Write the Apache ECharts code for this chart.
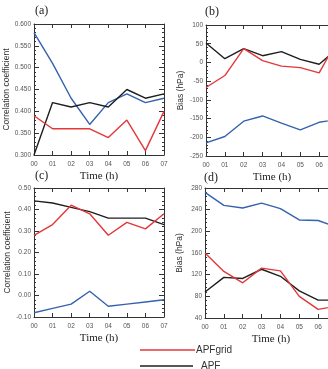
<!DOCTYPE html>
<html>
<head>
<meta charset="utf-8">
<script src="https://cdn.jsdelivr.net/npm/echarts@6/dist/echarts.min.js"></script>
<style>
  html, body { margin: 0; padding: 0; background: #fff; }
  #chart { width: 328px; height: 369px; }
</style>
</head>
<body>
<div id="chart"></div>
<script>
// hours on the x axis
const hours = ['00', '01', '02', '03', '04', '05', '06', '07'];

// (a) correlation coefficient
const corrA_grid = [0.39, 0.36, 0.36, 0.36, 0.34, 0.38, 0.31, 0.40];
const corrA_apf = [0.30, 0.42, 0.41, 0.42, 0.41, 0.45, 0.43, 0.44];
const corrA_blue = [0.58, 0.51, 0.43, 0.37, 0.42, 0.44, 0.42, 0.43];

// (b) bias
const biasB_grid = [-67, -35, 37, 5, -10, -14, -28, 62];
const biasB_apf = [52, 10, 37, 18, 29, 8, -5, 38];
const biasB_blue = [-215, -198, -157, -143, -162, -180, -160, -152];

// (c) correlation coefficient
const corrC_grid = [0.28, 0.33, 0.42, 0.38, 0.28, 0.34, 0.31, 0.38];
const corrC_apf = [0.44, 0.43, 0.41, 0.39, 0.36, 0.36, 0.36, 0.33];
const corrC_blue = [-0.08, -0.06, -0.04, 0.02, -0.05, -0.04, -0.03, -0.02];

// (d) bias
const biasD_grid = [160, 126, 105, 132, 127, 80, 56, 62];
const biasD_apf = [88, 115, 113, 130, 117, 90, 73, 73];
const biasD_blue = [272, 248, 243, 252, 242, 221, 220, 208];

const RED = '#e3373a';
const BLACK = '#1e1e1e';
const BLUE = '#3562ad';
const AXIS = '#333';

// right-hand panels run past the edge of the picture, as in the original crop
const grids = [
  { left: 34, top: 24, width: 130, height: 131, outerBoundsMode: 'none' },
  { left: 206, top: 25, width: 132, height: 131, outerBoundsMode: 'none' },
  { left: 34, top: 188, width: 130, height: 129, outerBoundsMode: 'none' },
  { left: 205, top: 188, width: 132, height: 130, outerBoundsMode: 'none' }
];

const yConf = [
  { min: 0.3, max: 0.6, interval: 0.05, fmt: v => v.toFixed(3), name: 'Correlation coefficient', gap: 20 },
  { min: -250, max: 100, interval: 50, fmt: v => String(v), name: 'Bias (hPa)', gap: 21 },
  { min: -0.1, max: 0.5, interval: 0.1, fmt: v => v.toFixed(2), name: 'Correlation coefficient', gap: 20 },
  { min: 40, max: 280, interval: 40, fmt: v => String(v), name: 'Bias (hPa)', gap: 21 }
];

const seriesData = [
  [corrA_grid, corrA_apf, corrA_blue],
  [biasB_grid, biasB_apf, biasB_blue],
  [corrC_grid, corrC_apf, corrC_blue],
  [biasD_grid, biasD_apf, biasD_blue]
];

const xAxes = [];
const yAxes = [];
const series = [];

grids.forEach((g, i) => {
  // bottom axis with labels
  xAxes.push({
    type: 'category', gridIndex: i, data: hours, boundaryGap: false, position: 'bottom',
    axisLine: { onZero: false, lineStyle: { color: AXIS, width: 1 } },
    axisTick: { inside: true, length: 4, lineStyle: { color: AXIS } },
    axisLabel: { color: '#555', fontSize: 6.5, fontFamily: 'Liberation Sans', margin: 6 },
    name: 'Time (h)', nameLocation: 'middle', nameGap: 16,
    nameTextStyle: { fontFamily: 'Liberation Serif', fontSize: 11, color: '#222' },
    splitLine: { show: false }
  });
  // top axis, ticks only
  xAxes.push({
    type: 'category', gridIndex: i, data: hours, boundaryGap: false, position: 'top',
    axisLine: { onZero: false, lineStyle: { color: AXIS, width: 1 } },
    axisTick: { inside: true, length: 4, lineStyle: { color: AXIS } },
    axisLabel: { show: false }, splitLine: { show: false }
  });
  const c = yConf[i];
  yAxes.push({
    type: 'value', gridIndex: i, min: c.min, max: c.max, interval: c.interval, position: 'left',
    axisLine: { show: true, onZero: false, lineStyle: { color: AXIS, width: 1 } },
    axisTick: { show: true, inside: true, length: 5, lineStyle: { color: AXIS } },
    minorTick: { show: true, splitNumber: 5, length: 2, lineStyle: { color: AXIS } },
    axisLabel: { color: '#555', fontSize: 6.5, fontFamily: 'Liberation Sans', margin: 3, formatter: c.fmt },
    name: c.name, nameLocation: 'middle', nameGap: c.gap,
    nameTextStyle: { fontFamily: 'Liberation Sans', fontSize: 8.5, color: '#333' },
    splitLine: { show: false }
  });
  yAxes.push({
    type: 'value', gridIndex: i, min: c.min, max: c.max, interval: c.interval, position: 'right',
    axisLine: { show: true, onZero: false, lineStyle: { color: AXIS, width: 1 } },
    axisTick: { show: true, inside: true, length: 5, lineStyle: { color: AXIS } },
    minorTick: { show: true, splitNumber: 5, length: 2, lineStyle: { color: AXIS } },
    axisLabel: { show: false }, splitLine: { show: false }
  });
  const [red, black, blue] = seriesData[i];
  const mk = (name, data, color) => ({
    name, type: 'line', xAxisIndex: i * 2, yAxisIndex: i * 2, data,
    symbol: 'none', lineStyle: { color, width: 1.4 }, itemStyle: { color },
    animation: false
  });
  series.push(mk('Other', blue, BLUE));
  series.push(mk('APF', black, BLACK));
  series.push(mk('APFgrid', red, RED));
});

const panelLabels = [
  { text: '(a)', left: 35, top: 5 },
  { text: '(b)', left: 205, top: 6 },
  { text: '(c)', left: 35, top: 170 },
  { text: '(d)', left: 204, top: 172 }
];

const legendBase = {
  orient: 'horizontal', itemWidth: 55, itemHeight: 1.5, icon: 'rect',
  padding: 0, selectedMode: false
};

const chart = echarts.init(document.getElementById('chart'));
chart.setOption({
  animation: false,
  title: panelLabels.map(p => ({
    text: p.text, left: p.left, top: p.top, padding: 0,
    textStyle: { fontFamily: 'Liberation Serif', fontSize: 12, fontWeight: 'normal', color: '#222' }
  })),
  legend: [
    Object.assign({}, legendBase, {
      data: ['APFgrid'], left: 140, top: 345,
      textStyle: { fontFamily: 'Liberation Sans', fontSize: 10, color: '#333', padding: [0, 0, 0, -4] }
    }),
    Object.assign({}, legendBase, {
      data: ['APF'], left: 140, top: 361, itemWidth: 53,
      textStyle: { fontFamily: 'Liberation Sans', fontSize: 10, color: '#333', padding: [0, 0, 0, 3] }
    })
  ],
  grid: grids,
  xAxis: xAxes,
  yAxis: yAxes,
  series
});
</script>
</body>
</html>
